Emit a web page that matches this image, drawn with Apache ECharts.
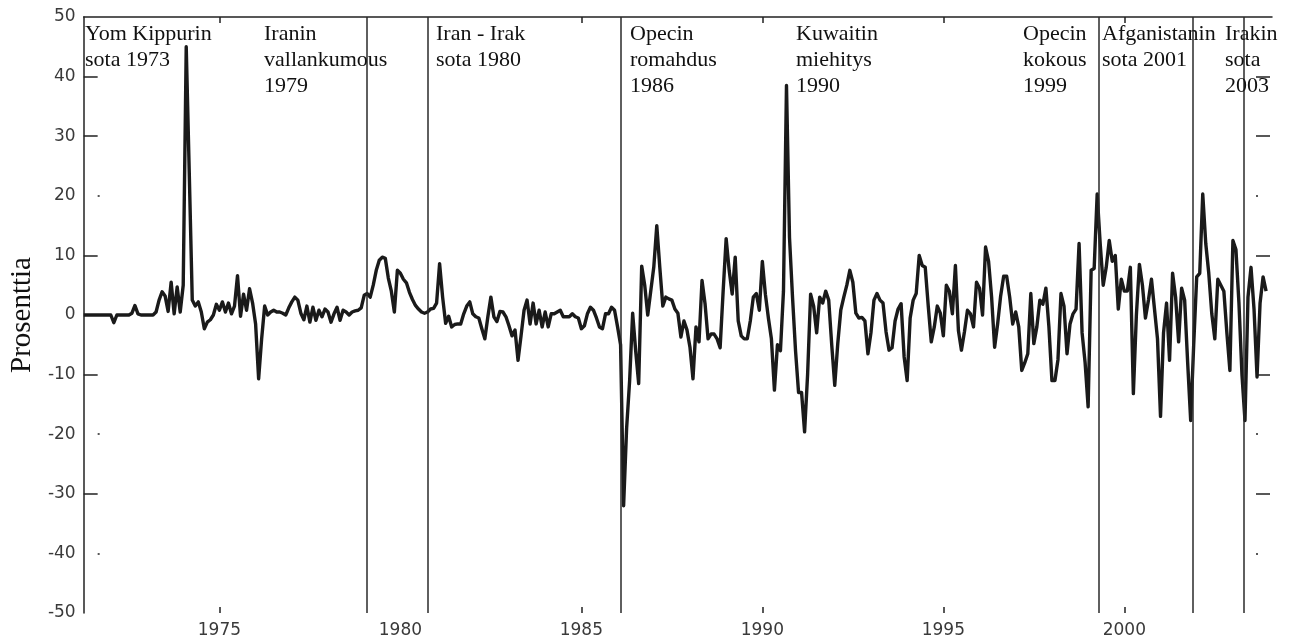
<!DOCTYPE html>
<html>
<head>
<meta charset="utf-8">
<script src="https://cdn.jsdelivr.net/npm/echarts@6/dist/echarts.min.js"></script>
<style>
html,body{margin:0;padding:0;background:#fff;}
#chart{width:1294px;height:639px;}
</style>
</head>
<body>
<div id="chart"></div>
<script>
// ---- data ----
const startYear = 1971.25;            // first monthly observation (decimal year)
const monthlyChange = [               // monthly oil price change, percent
  0,0,0,0,0,0,0,0,0,0,-1.3,0,0,0,0,0,0.3,1.6,0.2,0,0,0,0,0,
  0.5,2.5,3.9,3.2,0.6,5.5,0.2,4.7,0.5,5,45,24,2.5,1.5,2.2,0.5,-2.3,-1.2,-0.8,0,
  1.8,0.8,2.2,0.5,2.0,0.2,1.5,6.6,-0.2,3.5,0.8,4.4,2.0,-1.5,-10.7,-4,1.5,0,0.5,0.8,
  0.5,0.5,0.3,0,1.2,2.2,3,2.5,0.3,-0.8,1.5,-1.2,1.3,-0.9,0.8,-0.3,1,0.5,-1.2,0.2,
  1.3,-0.9,0.8,0.5,0,0.5,0.7,0.8,1.2,3.3,3.6,3,5,7.5,9.2,9.7,9.5,6.2,4,0.5,
  7.5,7,6,5.4,3.8,2.6,1.6,1,0.5,0.3,0.5,1,1.1,2,8.6,3,-1.4,-0.2,-2,-1.6,
  -1.5,-1.5,0.2,1.5,2.2,0.2,-0.3,-0.5,-2.3,-4,-0.3,3,-0.3,-1.1,0.6,0.5,-0.3,-1.8,-3.5,-2.5,
  -7.6,-3.5,0.8,2.5,-1.5,2,-1.5,0.8,-2,0.5,-2,0.2,0.2,0.5,0.8,-0.3,-0.3,-0.3,0.2,-0.3,
  -0.5,-2.3,-1.8,0.2,1.3,0.8,-0.5,-2,-2.3,0.2,0.2,1.3,0.8,-2,-5,-32,-19,-11,0.3,-6,
  -11.5,8.2,5,0,4,8,15,8,1.5,3,2.7,2.5,1,0.3,-3.7,-1,-2.5,-5.4,-10.7,-2,
  -4.5,5.8,1.9,-4,-3.2,-3.2,-4,-5.5,4,12.8,7.5,3.5,9.7,-1,-3.5,-4,-4,-1,3,3.6,
  0.8,9,3.5,-0.5,-4,-12.6,-5,-6,4,38.5,13,3,-6,-13,-13,-19.6,-10,3.5,1.5,-3,
  3,2,4,2.5,-5,-11.8,-4.8,0.8,3,5,7.5,5.5,0.3,-0.5,-0.4,-1,-6.5,-3,2.5,3.6,
  2.5,2,-2.8,-5.9,-5.5,-1,1,1.9,-7,-11,-0.5,2.5,3.6,10,8.3,8,1.5,-4.5,-2,1.5,
  0.3,-3.5,5,4,0.2,8.3,-2.6,-5.9,-2.8,0.8,0.2,-2,5.5,4.5,0,11.4,9,3,-5.4,-1.5,
  3.2,6.5,6.5,3,-1.5,0.5,-2,-9.3,-8,-6.5,3.6,-4.8,-2,2.5,1.8,4.5,-2,-11,-11,-7.5,
  3.6,1.5,-6.5,-1.5,0.2,1,12,-3,-8,-15.4,7.5,7.8,20.3,12,5,8,12.5,9,10,1,
  6,4,4,8,-13.2,0,8.5,5,-0.5,2.5,6,1,-4,-17,-3,2,-7.6,7,3,-4.5,
  4.5,2.5,-8,-17.7,-5,6.4,7,20.3,12,7,0.2,-4,6,5,4,-3,-9.3,12.5,11,2,
  -10,-17.7,3,8,1,-10.4,2,6.4,4
];
const eventYears = [1979.08, 1980.75, 1986.09, 1999.30, 2001.90, 2003.29];
const eventLabels = [
  'Yom Kippurin\nsota 1973',
  'Iranin\nvallankumous\n1979',
  'Iran - Irak\nsota 1980',
  'Opecin\nromahdus\n1986',
  'Kuwaitin\nmiehitys\n1990',
  'Opecin\nkokous\n1999',
  'Afganistanin\nsota 2001',
  'Irakin\nsota\n2003'
];
const xLabelYears = [1975, 1980, 1985, 1990, 1995, 2000];
const xTickYears = [1975, 1985, 1990, 1995, 2000];
const yDashTicks = [40, 30, 10, -10, -30];
const yDotTicks = [20, -20, -40];
const yAxisName = 'Prosenttia';

// ---- layout (pixels) ----
const labelLeft = [85, 264, 436, 630, 796, 1023, 1102, 1225];
const labelTop = 21;

const seriesData = monthlyChange.map((v, i) => [startYear + i / 12, v]);
const X_MIN = 1971.25, X_MAX = 2004.08;
const axisColor = '#222';
const tickFont = { fontFamily: 'DejaVu Sans', fontSize: 17, color: '#3a3a3a' };

const chart = echarts.init(document.getElementById('chart'), null, { renderer: 'canvas' });
const option = {
  animation: false,
  backgroundColor: '#ffffff',
  grid: { left: 81, right: 22, top: 17, bottom: 25, containLabel: false },
  xAxis: [
    {
      type: 'value', position: 'bottom', min: X_MIN, max: X_MAX,
      axisLine: { show: false, onZero: false },
      axisTick: { show: true, inside: true, length: 6, customValues: xTickYears, lineStyle: { color: axisColor, width: 1.5 } },
      axisLabel: Object.assign({ customValues: xLabelYears, margin: 9, formatter: v => String(Math.round(v)) }, tickFont),
      splitLine: { show: false }
    },
    {
      type: 'value', position: 'top', min: X_MIN, max: X_MAX,
      axisLine: { show: true, onZero: false, lineStyle: { color: axisColor, width: 1.5 } },
      axisTick: { show: true, inside: true, length: 6, customValues: xTickYears, lineStyle: { color: axisColor, width: 1.5 } },
      axisLabel: { show: false },
      splitLine: { show: false }
    }
  ],
  yAxis: [
    {
      type: 'value', position: 'left', min: -50, max: 50, interval: 10,
      name: yAxisName, nameLocation: 'middle', nameGap: 46, nameRotate: 90,
      nameTextStyle: { fontFamily: 'Liberation Serif', fontSize: 29, color: '#111' },
      axisLine: { show: true, onZero: false, lineStyle: { color: axisColor, width: 1.5 } },
      axisTick: { show: true, inside: true, length: 14, customValues: yDashTicks, lineStyle: { color: axisColor, width: 1.5 } },
      axisLabel: Object.assign({ margin: 8 }, tickFont),
      splitLine: { show: false }
    },
    {
      type: 'value', position: 'left', min: -50, max: 50, interval: 10,
      axisLine: { show: false, onZero: false },
      axisTick: { show: true, inside: true, length: 16, customValues: yDotTicks, lineStyle: { color: axisColor, width: 1.5, type: [0, 14, 2, 0] } },
      axisLabel: { show: false }, splitLine: { show: false }
    },
    {
      type: 'value', position: 'right', min: -50, max: 50, interval: 10,
      axisLine: { show: false, onZero: false },
      axisTick: { show: true, inside: true, length: 16, customValues: yDashTicks, lineStyle: { color: axisColor, width: 1.5, type: [0, 2, 14, 0] } },
      axisLabel: { show: false }, splitLine: { show: false }
    },
    {
      type: 'value', position: 'right', min: -50, max: 50, interval: 10,
      axisLine: { show: false, onZero: false },
      axisTick: { show: true, inside: true, length: 16, customValues: yDotTicks, lineStyle: { color: axisColor, width: 1.5, type: [0, 14, 2, 0] } },
      axisLabel: { show: false }, splitLine: { show: false }
    }
  ],
  series: [
    {
      type: 'line', xAxisIndex: 0, yAxisIndex: 0,
      data: seriesData, showSymbol: false, symbol: 'none',
      lineStyle: { color: '#1a1a1a', width: 3.4, join: 'round' },
      z: 3,
      markLine: {
        silent: true, symbol: ['none', 'none'],
        label: { show: false },
        lineStyle: { color: '#2a2a2a', width: 1.5, type: 'solid' },
        data: eventYears.map(y => ({ xAxis: y }))
      }
    }
  ],
  graphic: eventLabels.map((t, i) => ({
    type: 'text', left: labelLeft[i], top: labelTop, z: 10,
    style: { text: t, font: '22px "Liberation Serif"', fill: '#111', lineHeight: 26 }
  }))
};
chart.setOption(option);
</script>
</body>
</html>
